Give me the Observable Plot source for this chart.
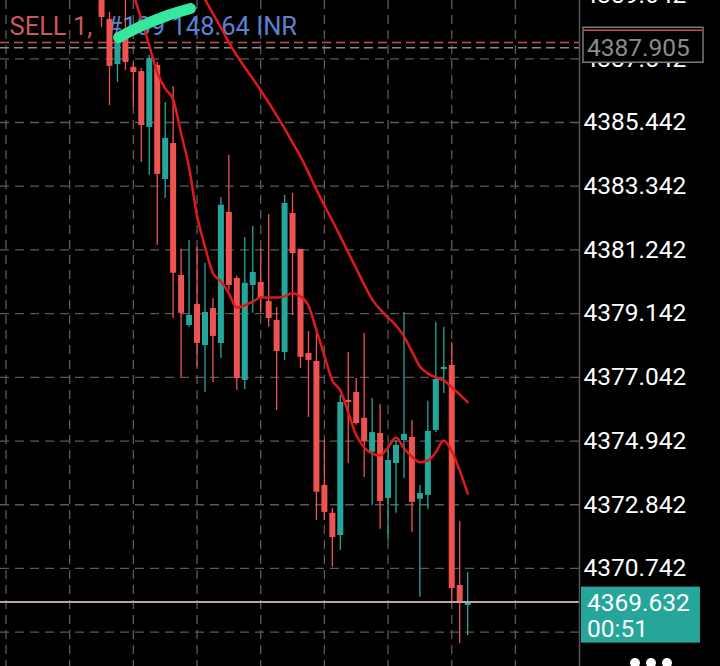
<!DOCTYPE html>
<html><head><meta charset="utf-8">
<script src="https://cdn.jsdelivr.net/npm/d3@7"></script>
<script src="https://cdn.jsdelivr.net/npm/@observablehq/plot@0.6"></script>
<style>html,body{margin:0;padding:0;background:#000;overflow:hidden}</style>
</head><body><div id="chart"></div>
<script>
// Candles (index 0..46), prices
const opens  = [4389.79,4388.84,4387.35,4388.18,4387.26,4387.12,4385.28,4387.32,4383.56,4384.75,4380.40,4378.75,4379.44,4378.09,4379.31,4378.16,4382.48,4380.30,4376.94,4380.07,4380.17,4379.54,4378.92,4377.86,4382.44,4381.26,4377.83,4377.56,4373.48,4372.56,4371.83,4376.28,4376.54,4375.69,4374.57,4375.19,4373.05,4374.20,4374.96,4375.06,4373.02,4373.15,4375.29,4377.30,4377.43,4370.18,4369.52];
const highs  = [4390.29,4389.07,4388.31,4389.63,4387.39,4387.22,4387.65,4387.42,4386.10,4386.63,4381.26,4381.55,4381.32,4380.80,4379.64,4382.97,4384.35,4380.37,4381.65,4382.01,4381.29,4382.41,4379.34,4383.04,4383.10,4381.26,4378.55,4378.49,4374.96,4372.72,4376.44,4377.86,4377.00,4378.49,4376.35,4376.15,4374.80,4374.96,4379.18,4375.62,4373.48,4376.25,4378.85,4378.69,4378.19,4372.29,4370.61];
const lows   = [4388.57,4386.00,4386.76,4387.16,4385.94,4384.12,4383.70,4381.39,4382.94,4378.98,4377.04,4378.69,4377.37,4376.54,4376.87,4377.66,4379.90,4376.61,4376.64,4379.15,4379.15,4378.69,4375.95,4377.60,4379.08,4377.33,4375.72,4372.32,4372.32,4370.78,4371.34,4374.20,4375.46,4373.74,4372.82,4372.03,4371.67,4372.56,4373.71,4371.93,4369.79,4372.69,4375.22,4376.51,4369.59,4368.27,4368.53];
const closes = [4388.90,4387.29,4388.05,4387.42,4387.09,4385.34,4387.55,4383.73,4384.92,4380.47,4379.15,4379.08,4378.16,4379.18,4378.39,4382.71,4380.07,4377.00,4380.14,4380.50,4379.67,4378.98,4377.89,4382.77,4381.12,4377.70,4377.60,4373.25,4372.59,4371.76,4376.21,4376.21,4375.52,4374.93,4375.22,4372.95,4374.30,4374.80,4375.16,4372.92,4373.21,4375.26,4376.97,4377.37,4370.08,4369.62,4369.632];

// Moving averages
const maFastStart = 3;
const maFast = [4390.55,4389.69,4388.84,4387.98,4387.09,4386.56,4386.20,4385.08,4383.96,4382.38,4381.35,4380.47,4380.20,4379.81,4379.34,4379.41,4379.54,4379.67,4379.67,4379.67,4379.71,4379.81,4379.71,4379.41,4378.59,4377.76,4376.94,4376.61,4375.88,4375.13,4374.73,4374.53,4374.47,4374.73,4375.06,4374.70,4374.43,4374.24,4374.30,4374.57,4374.96,4374.60,4373.97,4373.21];
const maSlowStart = 12;
const maSlow = [4389.96,4389.50,4389.03,4388.57,4388.08,4387.65,4387.26,4386.89,4386.50,4386.10,4385.67,4385.24,4384.78,4384.32,4383.79,4383.23,4382.71,4382.21,4381.69,4381.16,4380.63,4380.10,4379.61,4379.28,4379.01,4378.75,4378.39,4377.89,4377.40,4377.17,4377.04,4376.94,4376.71,4376.48,4376.22];

const gridPrices = [4389.642,4387.542,4385.442,4383.342,4381.242,4379.142,4377.042,4374.942,4372.842,4370.742,4368.642];
const yTickLabels = [4389.642,4387.542,4385.442,4383.342,4381.242,4379.142,4377.042,4374.942,4372.842,4370.742];
const gridIndex = [-12,-4,4,12,20,28,36,44,52];

const currentPrice = 4369.632;
const timerText = "00:51";
const orderPrice = 4388.08;
const askPrice = 4387.905;
const orderLabelA = "SELL 1,";
const orderLabelB = "#109 148.64 INR";

// hand-drawn highlighter stroke (index, price)
const strokeIdx = [2.14, 4.9, 8.29, 11.18];
const strokePrice = [4388.24, 4388.61, 4388.97, 4389.20];

const RED = "#ef5350", TEAL = "#26a69a", MA = "#e0191b";

const candles = opens.map((o, i) => ({i, open: o, high: highs[i], low: lows[i], close: closes[i],
  color: closes[i] >= o ? TEAL : RED}));
const fast = maFast.map((v, k) => ({i: k + maFastStart, v}));
const slow = maSlow.map((v, k) => ({i: k + maSlowStart, v}));
const hl = strokeIdx.map((x, k) => ({i: x, v: strokePrice[k]}));

const W = 720, H = 666, MR = 141;
const svg = Plot.plot({
  width: W, height: H,
  marginLeft: 0, marginRight: MR, marginTop: 0, marginBottom: 0,
  style: {background: "#000", color: "#fff", fontFamily: "Roboto, sans-serif"},
  x: {domain: [-12.69, 60.05], axis: null},
  y: {domain: [4367.51, 4389.463], axis: null},
  color: {type: "identity"},
  marks: [
    Plot.ruleY(gridPrices, {stroke: "#5a5a5a", strokeWidth: 1.3, strokeDasharray: "9,6"}),
    Plot.ruleX(gridIndex, {stroke: "#5a5a5a", strokeWidth: 1.3, strokeDasharray: "9,6"}),
    Plot.ruleY([orderPrice], {stroke: "#c4504c", strokeWidth: 1.5, strokeDasharray: "9,5"}),
    Plot.ruleY([askPrice], {stroke: "#8a8a8a", strokeWidth: 1.5, strokeDasharray: "9,5"}),
    Plot.text([orderLabelA], {frameAnchor: "top-left", dx: 9, dy: 26, text: d => d, textAnchor: "start", lineAnchor: "middle", fontSize: 25.5, fill: "#c85a5a"}),
    Plot.text([orderLabelB], {frameAnchor: "top-left", dx: 106, dy: 26, text: d => d, textAnchor: "start", lineAnchor: "middle", fontSize: 25.5, fill: "#5d80d0"}),
    Plot.ruleX(candles, {x: "i", y1: "low", y2: "high", stroke: "color", strokeWidth: 1.3, clip: true}),
    Plot.ruleX(candles, {x: "i", y1: "open", y2: "close", stroke: "color", strokeWidth: 6, clip: true}),
    Plot.line(slow, {x: "i", y: "v", stroke: MA, strokeWidth: 2.5, curve: "monotone-x", clip: true}),
    Plot.line(fast, {x: "i", y: "v", stroke: MA, strokeWidth: 2.5, curve: "monotone-x", clip: true}),
    Plot.ruleY([currentPrice], {stroke: "#b9a5a5", strokeWidth: 2}),
    Plot.line(hl, {x: "i", y: "v", stroke: "#35e89d", strokeWidth: 11, strokeLinecap: "round", curve: "natural"}),
    Plot.axisY(yTickLabels, {anchor: "right", tickSize: 0, tickPadding: 4, fontSize: 24.5, tickFormat: d => d.toFixed(3), fill: "#fff"}),
    Plot.frame({anchor: "right", stroke: "#555", strokeWidth: 1.5})
  ]
});

const ys = svg.scale("y");
const g = d3.select(svg).append("g").attr("font-family", "Roboto, sans-serif").attr("text-anchor", "start");
const axX = W - MR;
// ask price box
const ay = ys.apply(askPrice);
g.append("rect").attr("x", axX + 4).attr("y", ay - 20).attr("width", 120).attr("height", 35)
  .attr("fill", "#000").attr("stroke", "#7a7a7a").attr("stroke-width", 1.5);
g.append("line").attr("x1", axX + 5).attr("x2", axX + 123).attr("y1", ay - 17).attr("y2", ay - 17)
  .attr("stroke", "#c4504c").attr("stroke-width", 1.5);
g.append("text").attr("x", axX + 8).attr("y", ay).attr("dy", "0.35em").attr("font-size", 24.5)
  .attr("fill", "#8c8c8c").text(askPrice.toFixed(3));
// current price box
const cy = ys.apply(currentPrice);
g.append("rect").attr("x", axX + 2).attr("y", cy - 15).attr("width", 119).attr("height", 56).attr("fill", "#26a69a");
g.append("text").attr("x", axX + 8).attr("y", cy + 1).attr("dy", "0.35em").attr("font-size", 24.5)
  .attr("fill", "#fff").text(currentPrice.toFixed(3));
g.append("text").attr("x", axX + 8).attr("y", cy + 27).attr("dy", "0.35em").attr("font-size", 24.5)
  .attr("fill", "#fff").text(timerText);
// menu dots
[635, 651, 667].forEach(x => g.append("circle").attr("cx", x).attr("cy", 663).attr("r", 5).attr("fill", "#fff"));

document.getElementById("chart").appendChild(svg);
</script>
</body></html>
